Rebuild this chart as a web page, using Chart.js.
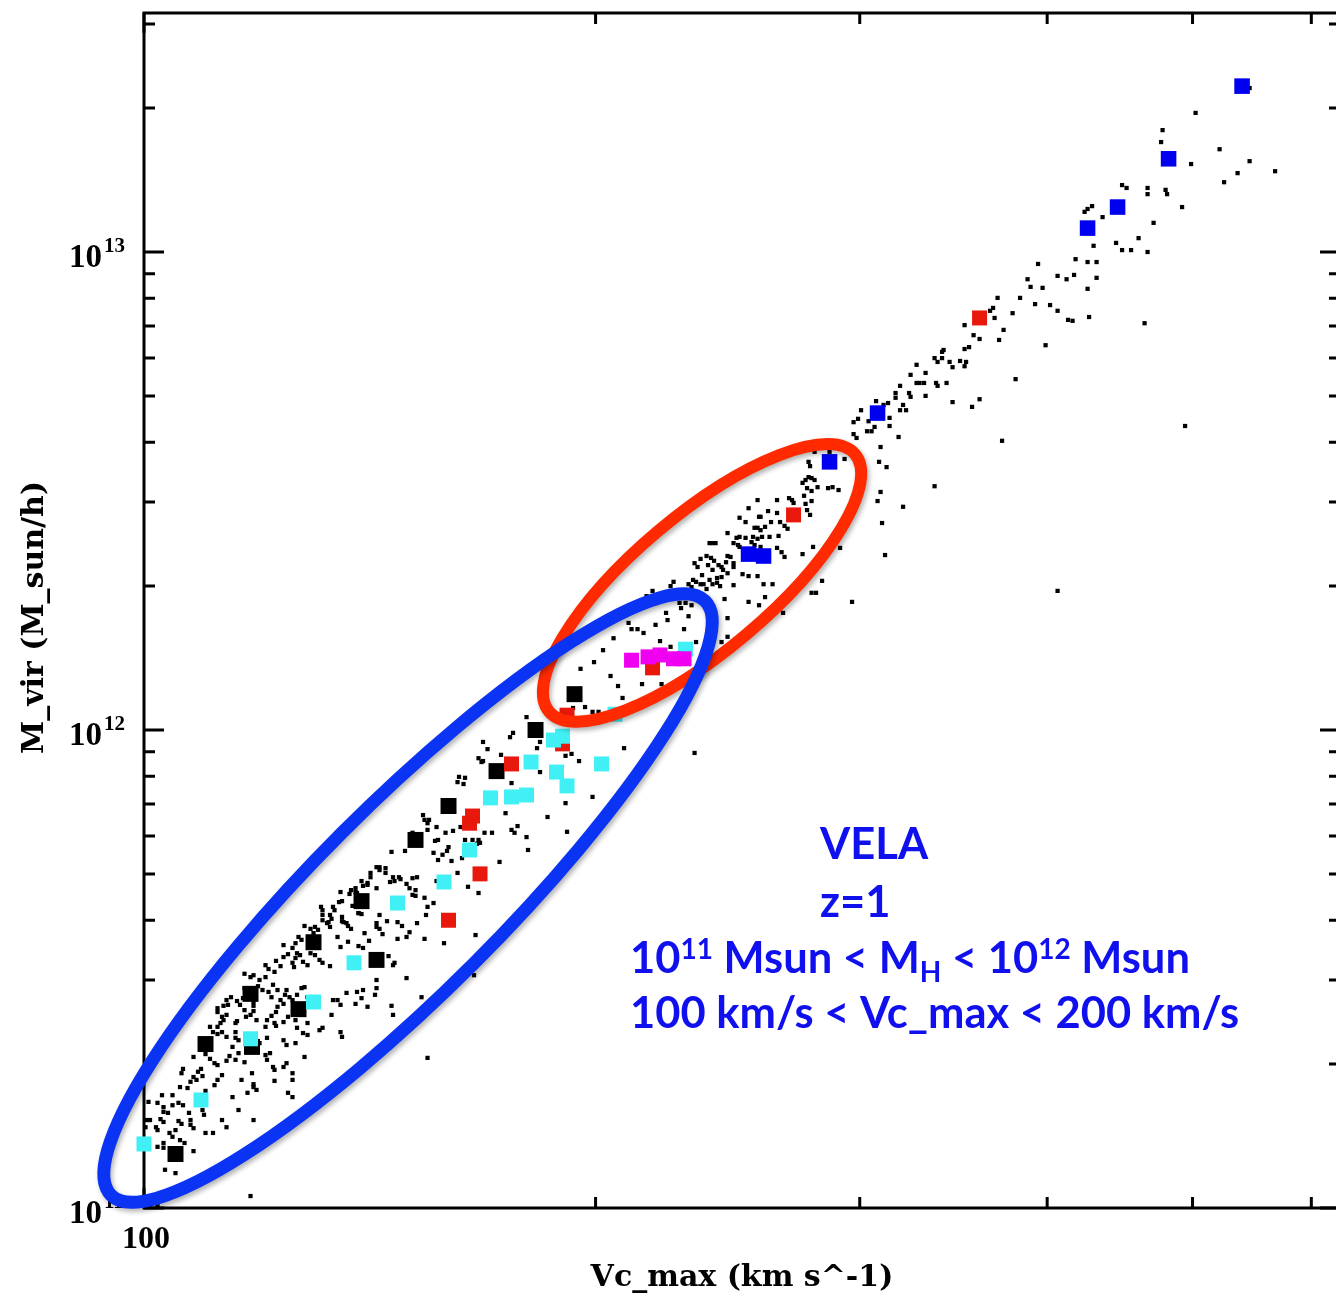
<!DOCTYPE html>
<html>
<head>
<meta charset="utf-8">
<title>VELA z=1 Mvir vs Vc_max</title>
<script src="https://cdn.jsdelivr.net/npm/chart.js@4.4.1/dist/chart.umd.min.js"></script>
<style>
  html, body { margin: 0; padding: 0; background: #fff; overflow: hidden; }
  canvas { display: block; }
</style>
</head>
<body>
<canvas id="myChart" width="1352" height="1298"></canvas>
<script>
// every value is [log10(Vc_max / km s^-1), log10(M_vir / Msun h^-1)]
const haloDots = [
  [2.737,13.343],[2.701,13.291],[2.679,13.255],[2.678,13.230],[2.717,13.215],[2.698,13.184],[2.737,13.190],[2.754,13.169],[2.729,13.165],[2.720,13.146],
  [2.652,13.140],[2.655,13.134],[2.669,13.134],[2.669,13.121],[2.681,13.130],[2.682,13.121],[2.692,13.094],[2.632,13.096],[2.629,13.090],[2.627,13.084],
  [2.639,13.073],[2.673,13.061],[2.663,13.029],[2.648,13.019],[2.652,13.004],[2.658,13.004],[2.669,13.000],[2.633,13.013],[2.621,12.985],[2.629,12.979],
  [2.635,12.979],[2.596,12.975],[2.609,12.950],[2.615,12.943],[2.620,12.952],[2.635,12.946],[2.589,12.943],[2.591,12.927],[2.599,12.925],[2.629,12.923],
  [2.569,12.904],[2.584,12.904],[2.579,12.872],[2.594,12.891],[2.604,12.889],[2.609,12.877],[2.616,12.858],[2.619,12.856],[2.630,12.864],[2.667,12.851],
  [2.566,12.883],[2.564,12.877],[2.567,12.862],[2.573,12.837],[2.547,12.847],[2.553,12.826],[2.557,12.818],[2.570,12.816],[2.601,12.805],[2.550,12.801],
  [2.547,12.797],[2.533,12.795],[2.532,12.791],[2.527,12.778],[2.529,12.770],[2.532,12.778],[2.537,12.770],[2.544,12.772],[2.548,12.770],[2.539,12.759],
  [2.547,12.761],[2.515,12.764],[2.511,12.743],[2.521,12.747],[2.515,12.726],[2.517,12.726],[2.520,12.726],[2.528,12.726],[2.529,12.720],[2.535,12.726],
  [2.504,12.720],[2.501,12.705],[2.501,12.695],[2.510,12.705],[2.511,12.697],[2.521,12.699],[2.539,12.686],[2.557,12.692],[2.552,12.676],[2.581,12.734],
  [2.694,12.636],[2.488,12.688],[2.478,12.669],[2.493,12.680],[2.496,12.684],[2.506,12.680],[2.504,12.669],[2.508,12.669],[2.476,12.651],[2.473,12.644],
  [2.483,12.646],[2.497,12.653],[2.487,12.634],[2.482,12.625],[2.485,12.625],[2.497,12.636],[2.473,12.619],[2.503,12.613],[2.609,12.291],[2.572,12.605],
  [2.475,12.611],
  [2.491,12.592],[2.490,12.561],[2.495,12.550],[2.527,12.510],[2.491,12.498],[2.489,12.479],[2.506,12.467],[2.492,12.433],[2.494,12.366],[2.472,12.268],
  [2.447,12.582],[2.457,12.582],[2.443,12.561],[2.444,12.552],[2.467,12.567],[2.463,12.502],[2.456,12.506],[2.459,12.508],[2.449,12.508],[2.443,12.529],
  [2.445,12.527],[2.447,12.523],[2.441,12.523],[2.439,12.517],[2.445,12.500],[2.442,12.506],[2.440,12.490],[2.445,12.479],[2.430,12.485],[2.432,12.481],
  [2.433,12.475],[2.441,12.473],[2.442,12.460],[2.444,12.450],[2.422,12.481],[2.409,12.481],[2.416,12.458],[2.422,12.454],[2.403,12.464],[2.397,12.444],
  [2.410,12.446],[2.411,12.446],[2.418,12.435],[2.424,12.435],[2.401,12.435],[2.427,12.427],[2.429,12.421],[2.407,12.423],[2.409,12.423],[2.411,12.418],
  [2.414,12.425],[2.389,12.412],[2.395,12.402],[2.397,12.404],[2.401,12.402],[2.406,12.404],[2.409,12.400],[2.412,12.404],[2.417,12.404],[2.423,12.406],
  [2.377,12.391],[2.379,12.391],[2.381,12.391],[2.393,12.391],[2.396,12.387],[2.397,12.383],[2.405,12.393],[2.407,12.387],[2.411,12.383],[2.422,12.381],
  [2.425,12.372],[2.446,12.383],[2.464,12.381],[2.427,12.362],[2.439,12.368],[2.371,12.358],[2.367,12.349],[2.375,12.364],[2.378,12.360],[2.380,12.354],
  [2.389,12.364],[2.391,12.362],[2.388,12.351],[2.393,12.349],[2.369,12.341],[2.376,12.345],[2.379,12.335],[2.383,12.345],[2.385,12.341],[2.386,12.335],
  [2.389,12.328],[2.393,12.341],[2.399,12.326],[2.403,12.322],[2.409,12.322],[2.372,12.324],[2.366,12.314],[2.368,12.310],[2.371,12.305],[2.373,12.305],
  [2.377,12.314],[2.379,12.305],[2.382,12.318],[2.385,12.320],[2.382,12.308],[2.384,12.301],[2.353,12.310],[2.351,12.301],[2.363,12.305],[2.393,12.303],
  [2.413,12.305],[2.419,12.305],[2.452,12.312],[2.339,12.291],[2.359,12.291],[2.365,12.299],[2.375,12.295],[2.387,12.274],[2.403,12.268],[2.410,12.261],
  [2.414,12.278],[2.445,12.287],[2.448,12.287],[2.357,12.266],[2.361,12.266],[2.365,12.261],[2.358,12.255],[2.348,12.245],[2.363,12.238],[2.426,12.245],
  [2.333,12.268],[2.335,12.280],
  [2.323,12.224],[2.325,12.211],[2.329,12.211],[2.333,12.203],[2.313,12.192],[2.306,12.167],[2.300,12.142],[2.291,12.128],[2.311,12.113],[2.316,12.092],
  [2.319,12.067],[2.332,12.096],[2.345,12.096],[2.351,12.174],[2.344,12.186],[2.341,12.220],[2.349,12.230],[2.360,12.211],[2.368,12.184],[2.294,12.048],
  [2.299,12.038],[2.303,12.038],[2.286,12.046],[2.255,12.027],[2.244,11.985],[2.246,11.994],[2.226,11.975],[2.229,11.960],[2.223,11.941],[2.225,11.933],
  [2.226,11.935],[2.238,11.948],[2.264,11.975],[2.262,11.962],[2.281,11.946],[2.285,11.950],[2.290,11.935],[2.320,11.962],[2.367,11.952],[2.264,11.912],
  [2.245,11.889],[2.210,11.902],[2.209,11.891],[2.213,11.887],[2.214,11.900],[2.385,12.184],[2.389,12.195],[2.389,12.234],
  [2.165,11.745],[2.174,11.747],[2.186,11.822],[2.187,11.812],[2.189,11.805],[2.190,11.812],[2.189,11.791],[2.195,11.797],[2.194,11.768],[2.196,11.770],
  [2.193,11.743],[2.196,11.728],[2.179,11.785],[2.155,11.713],[2.157,11.713],[2.161,11.711],[2.166,11.692],[2.170,11.692],[2.171,11.688],[2.179,11.690],
  [2.182,11.692],[2.177,11.669],[2.181,11.665],[2.164,11.682],[2.167,11.684],[2.157,11.707],[2.161,11.701],[2.151,11.701],[2.151,11.692],[2.145,11.684],
  [2.149,11.680],[2.155,11.669],[2.141,11.669],[2.146,11.674],[2.138,11.665],[2.141,11.661],[2.131,11.661],[2.137,11.657],[2.130,11.640],[2.132,11.642],
  [2.126,11.630],[2.127,11.623],[2.143,11.617],[2.145,11.615],[2.132,11.609],[2.133,11.598],[2.135,11.596],[2.124,11.613],[2.125,11.605],[2.118,11.630],
  [2.119,11.623],[2.119,11.613],[2.119,11.602],[2.122,11.596],[2.124,11.588],[2.136,11.590],[2.138,11.584],[2.114,11.588],[2.116,11.582],[2.113,11.575],
  [2.107,11.590],[2.111,11.584],[2.103,11.567],[2.105,11.561],[2.101,11.554],[2.093,11.550],[2.099,11.544],[2.102,11.533],[2.104,11.529],[2.096,11.531],
  [2.093,11.525],[2.111,11.533],[2.114,11.529],[2.101,11.523],[2.099,11.513],[2.100,11.504],[2.106,11.515],[2.109,11.508],[2.117,11.519],[2.119,11.513],
  [2.124,11.506],[2.131,11.546],[2.143,11.548],[2.146,11.544],[2.155,11.588],[2.157,11.584],[2.159,11.573],[2.147,11.575],[2.150,11.559],[2.163,11.527],
  [2.167,11.513],[2.166,11.508],[2.158,11.525],[2.172,11.590],[2.169,11.563],[2.175,11.567],[2.177,11.577],[2.181,11.653],[2.187,11.649],[2.189,11.630],
  [2.188,11.613],[2.182,11.596],[2.187,11.563],[2.195,11.684],[2.193,11.638],[2.200,11.554],[2.221,11.571],[2.216,11.672],[2.223,11.659],[2.209,11.701],
  [2.205,11.726],[2.199,11.739],[2.202,11.747],[2.203,11.755],[2.212,11.732],[2.214,11.770],[2.219,11.770],[2.222,11.762],[2.223,11.770],[2.224,11.764],
  [2.201,11.785],[2.206,11.789],[2.211,11.797],[2.227,11.785],[2.232,11.785],[2.237,11.724],[2.245,11.791],[2.247,11.785],[2.249,11.799],[2.255,11.776],
  [2.256,11.749],[2.241,11.826],[2.269,11.818],[2.282,11.787],[2.299,11.860],[2.281,11.847],[2.220,11.487],[2.175,11.678],[2.179,11.655],[2.157,11.613],
  [2.162,11.600],[2.169,11.598],[2.155,11.596],[2.143,11.617],[2.139,11.632],[2.142,11.659],[2.149,11.676],[2.129,11.567],[2.136,11.557],[2.123,11.598],
  [2.132,11.600],
  [2.088,11.517],[2.091,11.506],[2.081,11.508],[2.083,11.500],[2.087,11.494],[2.067,11.490],[2.071,11.483],[2.073,11.487],[2.077,11.477],[2.076,11.464],
  [2.081,11.483],[2.086,11.467],[2.089,11.456],[2.083,11.452],[2.085,11.441],[2.089,11.421],[2.088,11.410],[2.085,11.402],[2.082,11.393],[2.081,11.379],
  [2.087,11.387],[2.088,11.381],[2.073,11.412],[2.071,11.404],[2.068,11.400],[2.075,11.393],[2.067,11.414],[2.064,11.425],[2.062,11.433],[2.058,11.441],
  [2.055,11.435],[2.056,11.425],[2.053,11.423],[2.049,11.418],[2.049,11.410],[2.052,11.400],[2.055,11.404],[2.053,11.393],[2.051,11.387],[2.049,11.379],
  [2.046,11.368],[2.049,11.364],[2.052,11.368],[2.044,11.379],[2.061,11.387],[2.062,11.391],[2.061,11.368],[2.061,11.356],[2.063,11.351],[2.055,11.358],
  [2.057,11.318],[2.061,11.310],[2.047,11.303],[2.049,11.299],[2.055,11.308],[2.033,11.316],[2.041,11.322],[2.044,11.312],[2.038,11.291],[2.036,11.285],
  [2.039,11.276],[2.033,11.274],[2.035,11.268],[2.031,11.264],[2.026,11.291],[2.025,11.282],[2.052,11.278],[2.041,11.245],[2.049,11.268],[2.047,11.257],
  [2.029,11.251],[2.024,11.253],[2.019,11.236],[2.012,11.236],[2.009,11.220],[2.013,11.211],[2.013,11.201],[2.019,11.215],[2.023,11.220],[2.026,11.215],
  [2.016,11.199],[2.003,11.222],[2.002,11.184],[2.004,11.184],[2.011,11.186],[2.013,11.180],[2.001,11.169],[2.008,11.169],[2.009,11.163],[2.023,11.182],
  [2.025,11.176],[2.030,11.199],[2.031,11.184],[2.031,11.174],[2.033,11.167],[2.017,11.157],[2.019,11.149],[2.021,11.163],[2.024,11.142],[2.027,11.136],
  [2.013,11.136],[2.009,11.128],[2.013,11.126],[2.033,11.119],[2.041,11.157],[2.046,11.157],[2.052,11.184],[2.055,11.169],[2.039,11.205],[2.040,11.195],
  [2.059,11.232],[2.063,11.205],[2.073,11.184],[2.069,11.241],[2.073,11.253],[2.075,11.247],[2.072,11.282],[2.073,11.259],[2.065,11.268],[2.067,11.305],
  [2.063,11.324],[2.059,11.337],[2.071,11.335],[2.077,11.345],[2.081,11.320],[2.082,11.310],[2.086,11.295],[2.087,11.289],[2.087,11.266],[2.084,11.324],
  [2.082,11.356],[2.073,11.431],[2.073,11.423],[2.066,11.439],[2.067,11.460],[2.079,11.456],[2.014,11.080],[2.021,11.073],[2.006,11.017],[2.004,11.006],
  [2.009,11.004],[2.071,11.025],[2.095,11.456],[2.094,11.446],[2.091,11.435],[2.093,11.427],[2.097,11.441],[2.099,11.435],[2.102,11.446],[2.105,11.460],
  [2.107,11.462],[2.109,11.441],[2.112,11.435],[2.096,11.400],[2.093,11.389],[2.101,11.393],[2.102,11.377],[2.109,11.387],[2.106,11.366],[2.109,11.362],
  [2.101,11.345],[2.093,11.351],[2.095,11.341],[2.107,11.316],[2.117,11.372],[2.119,11.377],[2.095,11.303],[2.093,11.295],[2.099,11.282],[2.099,11.268],
  [2.096,11.241],[2.099,11.232],[2.125,11.404],[2.126,11.435],[2.129,11.435],[2.131,11.425],[2.131,11.368],[2.132,11.358],[2.135,11.450],[2.141,11.427],
  [2.142,11.452],[2.145,11.439],[2.146,11.456],[2.154,11.446],[2.155,11.460],[2.155,11.477],[2.149,11.421],[2.165,11.423],[2.166,11.404],[2.175,11.481],
  [2.185,11.441],[2.189,11.314]
];

// highlighted VELA haloes, same units
const blackHalos = [[2.021,11.113],[2.041,11.343],[2.072,11.337],[2.071,11.448],[2.103,11.416],[2.113,11.556],[2.155,11.519],
  [2.145,11.642],[2.181,11.770],[2.203,11.841],[2.235,11.914],[2.261,12.000],[2.287,12.075]];
const redHalos = [[2.203,11.602],[2.224,11.699],[2.217,11.805],[2.219,11.820],[2.245,11.929],[2.279,11.971],[2.282,12.031],
  [2.339,12.130],[2.433,12.450],[2.557,12.862]];
const cyanHalos = [[2.000,11.134],[2.038,11.226],[2.071,11.354],[2.113,11.431],[2.140,11.513],[2.169,11.638],[2.200,11.682],
  [2.217,11.749],[2.231,11.858],[2.245,11.860],[2.255,11.864],[2.258,11.933],[2.273,11.979],[2.279,11.987],[2.275,11.912],
  [2.282,11.883],[2.305,11.929],[2.314,12.033],[2.361,12.169]];
const magentaHalos = [[2.325,12.146],[2.336,12.153],[2.344,12.157],[2.353,12.149],[2.360,12.149]];
const blueHalos = [[2.403,12.368],[2.413,12.364],[2.457,12.561],[2.489,12.663],[2.629,13.050],[2.649,13.094],[2.683,13.195],[2.732,13.347]];

// axes
const xMin = 100, xMax = 627;
const yMin = 1e11, yMax = Math.pow(10, 13.5);
const xTickValues = [100, 200, 300, 400, 500, 600];
const xTickLabels = ['100'];
const yDecades = [11, 12, 13];

// hand-drawn selection loops: major-axis ends (log units) and minor/major ratio
const redLoop = { ends: [[2.270, 12.0385], [2.474, 12.577]], ratio: 0.34, color: '#ff2a00', width: 12 };
const blueLoop = { ends: [[1.978, 11.027], [2.374, 12.270]], ratio: 0.221, color: '#0a33f4', width: 13 };

// annotation lines: left anchor (log Vc), baseline (log M)
const noteLines = [
  { at: [2.4507, 11.730], parts: [['VELA']] },
  { at: [2.4507, 11.609], parts: [['z=1']] },
  { at: [2.324, 11.4916], parts: [['10'], ['11', 'sup'], [' Msun < M'], ['H', 'sub'], [' < 10'], ['12', 'sup'], [' Msun']] },
  { at: [2.324, 11.3766], parts: [['100 km/s < Vc_max < 200 km/s']] }
];

const toXY = arr => arr.map(p => ({ x: Math.pow(10, p[0]), y: Math.pow(10, p[1]) }));

function squares(label, arr, color, r, order) {
  return {
    label: label,
    data: toXY(arr),
    pointStyle: 'rect',
    pointRadius: r,
    pointBackgroundColor: color,
    pointBorderWidth: 0,
    showLine: false,
    order: order,
    clip: false
  };
}

const framePlugin = {
  id: 'frame',
  beforeDatasetsDraw(chart) {
    const { ctx, chartArea: a, scales: { x, y } } = chart;
    ctx.save();
    ctx.strokeStyle = '#000';
    ctx.lineWidth = 3;
    ctx.strokeRect(a.left, a.top, a.right - a.left, a.bottom - a.top);
    ctx.beginPath();
    yDecades.forEach(d => {
      for (let k = 1; k < 10; k++) {
        const v = k * Math.pow(10, d);
        if (v > yMax) break;
        const py = y.getPixelForValue(v);
        const len = k === 1 ? 20 : 11;
        ctx.moveTo(a.left, py); ctx.lineTo(a.left + len, py);
        ctx.moveTo(a.right, py); ctx.lineTo(a.right - len, py);
      }
    });
    xTickValues.forEach(v => {
      const px = x.getPixelForValue(v);
      const len = v === 100 ? 20 : 11;
      ctx.moveTo(px, a.bottom); ctx.lineTo(px, a.bottom - len);
      ctx.moveTo(px, a.top); ctx.lineTo(px, a.top + len);
    });
    ctx.stroke();

    // tick labels
    ctx.fillStyle = '#000';
    ctx.textBaseline = 'alphabetic';
    yDecades.forEach(d => {
      const py = y.getPixelForValue(Math.pow(10, d));
      ctx.font = 'bold 33px "Liberation Serif"';
      ctx.textAlign = 'left';
      ctx.fillText('10', 69, py + 15);
      const w = ctx.measureText('10').width;
      ctx.font = 'bold 21px "Liberation Serif"';
      ctx.fillText(String(d), 69 + w + 2, py);
    });
    ctx.font = 'bold 32px "Liberation Serif"';
    ctx.textAlign = 'center';
    xTickLabels.forEach(t => {
      ctx.fillText(t, x.getPixelForValue(Number(t)) + 2, a.bottom + 40);
    });

    // axis titles
    ctx.font = 'bold 30px "DejaVu Serif"';
    ctx.textBaseline = 'middle';
    ctx.fillText('Vc_max (km s^-1)', (a.left + a.right) / 2, 1278);
    ctx.translate(35, (a.top + a.bottom) / 2 + 7);
    ctx.rotate(-Math.PI / 2);
    ctx.fillText('M_vir (M_sun/h)', 0, 0);
    ctx.restore();
  }
};

const overlayPlugin = {
  id: 'overlay',
  afterDatasetsDraw(chart) {
    const { ctx, scales: { x, y } } = chart;
    const px = p => [x.getPixelForValue(Math.pow(10, p[0])), y.getPixelForValue(Math.pow(10, p[1]))];
    ctx.save();
    [redLoop, blueLoop].forEach(loop => {
      const p1 = px(loop.ends[0]), p2 = px(loop.ends[1]);
      const cx = (p1[0] + p2[0]) / 2, cy = (p1[1] + p2[1]) / 2;
      const semi = Math.hypot(p2[0] - p1[0], p2[1] - p1[1]) / 2;
      const ang = Math.atan2(p2[1] - p1[1], p2[0] - p1[0]);
      ctx.save();
      ctx.shadowColor = 'rgba(0,0,0,0.3)';
      ctx.shadowBlur = 5;
      ctx.shadowOffsetX = 2;
      ctx.shadowOffsetY = 3;
      ctx.strokeStyle = loop.color;
      ctx.lineWidth = loop.width;
      ctx.beginPath();
      ctx.ellipse(cx, cy, semi, semi * loop.ratio, ang, 0, 2 * Math.PI);
      ctx.stroke();
      ctx.restore();
    });

    ctx.fillStyle = '#1010ee';
    ctx.textAlign = 'left';
    ctx.textBaseline = 'alphabetic';
    const big = 'bold 43.5px Lato', small = 'bold 28px Lato';
    noteLines.forEach(line => {
      let [cx, cy] = px(line.at);
      line.parts.forEach(([t, kind]) => {
        ctx.font = kind ? small : big;
        const dy = kind === 'sup' ? -14 : kind === 'sub' ? 9 : 0;
        ctx.fillText(t, cx, cy + dy);
        cx += ctx.measureText(t).width;
      });
    });
    ctx.restore();
  }
};

const data = {
  datasets: [
    squares('magenta', magentaHalos, '#f000f0', 10.6, 1),
    squares('blue', blueHalos, '#0000f0', 11, 2),
    squares('cyan', cyanHalos, '#40f0f4', 10.6, 3),
    squares('red', redHalos, '#e8180c', 10.6, 4),
    squares('black', blackHalos, '#000', 11.3, 5),
    {
      label: 'haloes',
      data: toXY(haloDots),
      pointStyle: 'rect',
      pointRadius: 3,
      pointBackgroundColor: '#000',
      pointBorderWidth: 0,
      order: 6,
      clip: false
    }
  ]
};

const config = {
  type: 'scatter',
  data: data,
  options: {
    responsive: false,
    animation: false,
    // the right edge of the frame sits just past the visible window, as in the original
    layout: { padding: { left: 144, top: 13, right: 12, bottom: 90 } },
    plugins: { legend: { display: false }, tooltip: { enabled: false } },
    scales: {
      x: { type: 'logarithmic', min: xMin, max: xMax, display: false },
      y: { type: 'logarithmic', min: yMin, max: yMax, display: false }
    }
  },
  plugins: [framePlugin, overlayPlugin]
};

const myChart = new Chart(document.getElementById('myChart'), config);
</script>
</body>
</html>
